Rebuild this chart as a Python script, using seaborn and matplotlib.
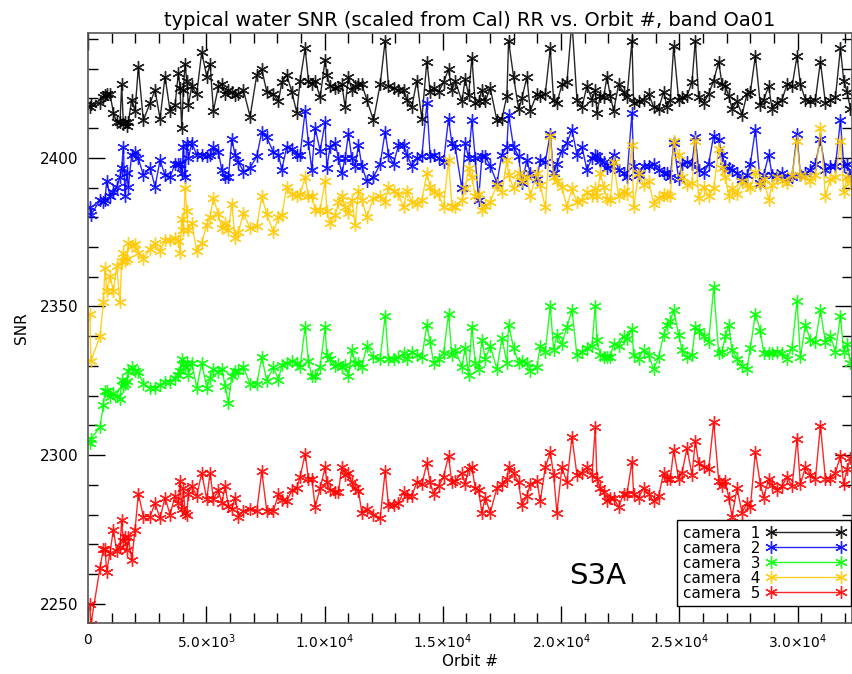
import matplotlib
matplotlib.use("Agg")
import matplotlib.pyplot as plt
import matplotlib.ticker as mticker
import seaborn as sns
import pandas as pd

# ---------------- data ----------------
orbit = [
    80, 120, 508, 649, 719, 790, 931, 1072, 1213, 1354, 1424, 1495, 1565, 1636, 1706, 1847, 1988, 2129, 2341,
    2623, 2834, 3046, 3257, 3469, 3680, 3821, 3892, 3962, 4033, 4103, 4174, 4244, 4385, 4597, 4808, 5020, 5161, 5302,
    5514, 5655, 5796, 5937, 6078, 6219, 6360, 6571, 6853, 7135, 7347, 7558, 7840, 8052, 8193, 8404, 8616, 8827,
    8968, 9180, 9321, 9462, 9603, 9814, 10026, 10096, 10237, 10449,
    10589, 10730, 10871, 11012, 11153, 11294, 11435, 11576, 11788, 12070, 12352, 12563, 12704, 12916, 13127, 13339,
    13480, 13691, 13903, 14114, 14326, 14467, 14608, 14819, 15031, 15242, 15383, 15524,
    15807, 15948, 16089, 16230, 16371, 16512, 16653, 16794, 17005, 17287, 17499, 17710, 17781, 17992, 18204, 18345,
    18556, 18697, 18979, 19120, 19332, 19543, 19684, 19825, 20037, 20248, 20460, 20671, 20883, 21094,
    21305, 21446, 21517, 21658, 21799, 21940, 22081, 22222, 22433, 22645, 22786, 22997, 23068, 23279, 23491, 23702,
    23914, 24125, 24337, 24478, 24619, 24760, 24971, 25112, 25324, 25535, 25676, 25817, 26029, 26240, 26452,
    26664, 26805, 26946, 27087, 27228, 27439, 27651, 27862, 28003, 28215, 28426, 28567, 28779, 28920, 29131, 29343,
    29554, 29766, 29977, 30118, 30330, 30541, 30753, 30964, 31176, 31387, 31599, 31810, 31951, 32092, 32233,
]

camera1 = [
    2417, 2418, 2418.4, 2420.3, 2421, 2421.5, 2421.5, 2415.2, 2412, 2412, 2424.7, 2411.3, 2412, 2410.7, 2412, 2419.6,
    2415.8, 2430.5, 2412.6, 2418.4, 2422.8, 2413.2, 2427.3, 2415.8, 2417.7, 2428.6, 2423.5, 2410, 2422.8, 2431.7,
    2426, 2417.7, 2424.1, 2421.5, 2435.6, 2427.3, 2431.7, 2415.8,
    2424.1, 2424.7, 2421.5, 2422.8, 2422.2, 2421, 2421.5, 2422.8, 2413.9, 2427.9, 2429.8, 2422.2, 2421.5, 2419,
    2425.4, 2427.9, 2422.2, 2415.2, 2426, 2436.8, 2426, 2425, 2426, 2420.3, 2433, 2427.9, 2424.1, 2423.5,
    2424, 2424.7, 2417.1, 2427.3, 2422.8, 2424.1, 2424.7, 2424.7, 2419.6, 2412.6, 2424.7, 2439.4, 2424.1, 2423.5,
    2422.8, 2422.8, 2419.6, 2417.1, 2426, 2413.2, 2432.4, 2422.2, 2423.5, 2422.2, 2425.4, 2429.8, 2422.8, 2426,
    2419, 2426.6, 2421, 2433.7, 2418.4, 2419, 2422.8, 2419, 2423.5, 2412.6, 2413.2, 2420.9, 2439.4, 2427.3, 2416.5,
    2420, 2427.3, 2415.8, 2421.5, 2420.9, 2421.5, 2436.8, 2419.6, 2418.4, 2424.7, 2425.4, 2446, 2419.6, 2417.1, 2424.1,
    2419.6, 2422.8, 2415.2, 2420.9, 2420.3, 2427.3, 2420.9, 2415.8, 2424.7, 2422.2, 2420.3, 2439.4, 2418.4, 2419,
    2419.6, 2421.5, 2417.1, 2416.5, 2422.2, 2417.1, 2419.6, 2437.5, 2419.6, 2420.3, 2420.9, 2425.4, 2439.4, 2420.3,
    2418.4, 2421.5, 2426,
    2432.4, 2424.7, 2424.1, 2420.9, 2416.5, 2419, 2414.5, 2421.5, 2422.2, 2434.3, 2417.7, 2419.6, 2424.1, 2416.5,
    2418.4, 2419.6, 2424.7, 2424.1, 2434.3, 2424.7, 2419.6, 2419, 2419.6, 2432.4, 2418.4, 2419.6, 2420.3, 2436.8,
    2426, 2422.2, 2416.5,
]

camera2 = [
    2383.3, 2380.7, 2385.8, 2385.2, 2385.8, 2392.2, 2387.1, 2388.4, 2390.3, 2393.5, 2396.7, 2403.7, 2387.1, 2394.8,
    2390.3, 2401.1, 2401.8, 2399.9, 2394.1, 2396.7, 2390.3, 2399.2, 2394.1, 2393.5, 2398, 2398, 2398, 2394.8, 2403.7,
    2393.5, 2405, 2399.9, 2405, 2401.1, 2401.1, 2400.5, 2401, 2403.7,
    2402, 2396, 2393.5, 2393.5, 2406.2, 2401.1, 2398.6, 2395.4, 2396.7, 2400.5, 2408.8, 2406.9, 2401.8, 2401.1, 2396,
    2403.7, 2403, 2401.1, 2401.1, 2415.8, 2405, 2396, 2410, 2402.4, 2412, 2396.7, 2403.7, 2405,
    2400, 2394.8, 2399.9, 2408.1, 2399.9, 2397.3, 2404.3, 2397.3, 2392.2, 2393.5, 2398, 2408.8, 2401.1, 2398, 2404.3,
    2404.3, 2401.1, 2397.3, 2399.9, 2400.5, 2418.4, 2400.5, 2401.1, 2399.9, 2398.6, 2413.2, 2405, 2403.7,
    2389.7, 2405, 2399.9, 2412.6, 2399.9, 2385.8, 2400.5, 2400.5, 2397.3, 2391.6, 2401.1, 2403.7, 2414.5, 2403.7,
    2400.5, 2391.6, 2399.2, 2394.8, 2392.9, 2399.2, 2398.6, 2408.1, 2394.8, 2398, 2402.4, 2405, 2409.5, 2401.1,
    2403.7, 2396,
    2399.9, 2401.1, 2400.5, 2399, 2398.6, 2396.7, 2397.3, 2401.1, 2396, 2394.8, 2393.5, 2415.2, 2397.3, 2394.1,
    2397.3, 2397.3, 2398, 2396, 2394.8, 2395, 2393.5, 2405, 2392.9, 2398, 2398.6, 2398, 2406.9, 2396, 2394.8, 2398,
    2407.5,
    2406, 2401.1, 2397.3, 2396.5, 2396, 2394.8, 2392.9, 2394.1, 2398, 2409.5, 2391.6, 2394.1, 2401.1, 2394.1, 2394.1,
    2394.8, 2392.9, 2393.5, 2408.1, 2394.1, 2394.8, 2396, 2398, 2406.2, 2396, 2397.3, 2397.3, 2412.6, 2397.3, 2398,
    2394.1,
]

camera3 = [
    2304.2, 2305.5, 2309.3, 2317, 2321.4, 2321.4, 2319.5, 2320.8, 2320, 2318.9, 2325.2, 2323.3, 2323.9, 2325, 2328.4,
    2329.7, 2328.4, 2327.8, 2323.9, 2322.7, 2322.7, 2323.5, 2324.6, 2324.6, 2325.9, 2327, 2328.4, 2332.3, 2330.4,
    2329.7, 2331, 2327.1, 2331, 2322.7, 2331, 2322.7, 2326, 2329,
    2328, 2329, 2323.3, 2317.6, 2326.5, 2328.4, 2328.4, 2329.7, 2323.9, 2323.9, 2332.9, 2325, 2329.7, 2325.2, 2330.4,
    2331, 2331.6, 2331, 2329.7, 2343.1, 2331.6, 2326.5, 2326.5, 2329.7, 2343.1, 2333.5, 2332.3, 2330,
    2330.5, 2329.7, 2330.4, 2326.5, 2335.4, 2331, 2331, 2329.7, 2336.7, 2332.9, 2332.3, 2346.9, 2332.3, 2332.3,
    2332.9, 2334.2, 2332.3, 2334.8, 2333.5, 2332.9, 2343.8, 2338, 2331, 2332.3, 2334.2, 2347.6, 2333.5, 2335.4,
    2329.7, 2336.1, 2327.1, 2343.1, 2331, 2329, 2338.6, 2332.3, 2336.7, 2329, 2339.3, 2331, 2343.8, 2336.1, 2331,
    2331.6, 2331, 2328.4, 2329.7, 2336.7, 2334.8, 2350.1, 2335.4, 2340.5, 2337.4, 2343.1, 2348.8, 2333.5, 2334.8,
    2336.1,
    2336.7, 2350.1, 2338.6, 2333.5, 2332.9, 2332.9, 2332.9, 2337.4, 2336.7, 2339.9, 2339, 2342.5, 2333.5, 2332.3,
    2335.4, 2333.5, 2329, 2332.9, 2340.5, 2343.8, 2345, 2348.8, 2340.5, 2335.4, 2332.9, 2333.5, 2343.1, 2341.8,
    2339.9, 2338, 2356.5,
    2334.2, 2334.8, 2340, 2343.8, 2335.4, 2332.3, 2330, 2329, 2336.1, 2347.6, 2341.8, 2334.2, 2334.2, 2334.5, 2334.8,
    2334.2, 2332.3, 2336.1, 2352, 2332.9, 2343.8, 2338.6, 2338, 2348.8, 2338, 2339.9, 2334.8, 2346.9, 2334.8, 2337.4,
    2331,
]

camera4 = [
    2347.6, 2331.6, 2339.9, 2351.4, 2362.9, 2355.2, 2360.3, 2355.2, 2363.5, 2351.4, 2365.4, 2368, 2365.4, 2366,
    2371.2, 2370.5, 2371, 2368, 2366.1, 2369.2, 2371.2, 2368.6, 2372.4, 2372.4, 2373.1, 2372, 2368, 2379.5, 2375.6,
    2389.7, 2382, 2375.6, 2378.2, 2368.6, 2371.2, 2377.5, 2380, 2386.5,
    2381, 2376.3, 2378.2, 2375.6, 2384.6, 2373.1, 2375, 2381.4, 2376.3, 2376.9, 2387.1, 2381, 2375, 2380.1, 2380.7,
    2390.3, 2387.8, 2387.1, 2387.8, 2393.5, 2387.1, 2387.1, 2382.6, 2382.6, 2392.2, 2382, 2378, 2380.7,
    2385, 2387.1, 2383.3, 2381.4, 2385.8, 2377.5, 2389, 2385.8, 2380.1, 2386.5, 2387.1, 2385.2, 2390.3, 2389, 2387.8,
    2383.3, 2389, 2385.2, 2384.6, 2385.8, 2394.8, 2390.3, 2388.4, 2387.8, 2383.3, 2399.2, 2383.8, 2383.3,
    2385.8, 2389.7, 2396.7, 2393.5, 2387.1, 2387.8, 2382.6, 2383.9, 2385.2, 2390.9, 2388.4, 2399.2, 2394.1, 2389.7,
    2394.8, 2392.2, 2393.5, 2387.1, 2394.8, 2390.9, 2383.3, 2407.5, 2393.5, 2392.2, 2390.3, 2383.3, 2389.7, 2385.2,
    2385.8, 2388.4,
    2387.1, 2389.7, 2387.1, 2394.8, 2390.3, 2386, 2385.8, 2398.6, 2387.1, 2389, 2388, 2404.3, 2383.3, 2394.8, 2390.9,
    2392.2, 2384.6, 2386.5, 2387.8, 2387.5, 2387.1, 2405.6, 2401.1, 2393.5, 2390.9, 2391.6, 2405.6, 2386.5, 2390.3,
    2387.1, 2389.7,
    2403, 2396.7, 2393.5, 2387.1, 2389.7, 2387.8, 2392.2, 2390.9, 2389.7, 2395.4, 2390.9, 2392.9, 2385.8, 2390.9,
    2393.5, 2392.2, 2391.6, 2394.1, 2405.6, 2394.1, 2393.5, 2392.2, 2394.1, 2410.1, 2387.1, 2392.9, 2393.5, 2405.6,
    2388.4, 2393.5, 2391.6,
]

camera5 = [
    2250, 2243, 2262.1, 2268.5, 2268.5, 2260.8, 2267.2, 2274.9, 2267.8, 2269.1, 2278.1, 2271, 2272.3, 2268, 2272.3,
    2264.6, 2274.9, 2287, 2279.3, 2279.3, 2283.8, 2278.7, 2285.7, 2280, 2286.3, 2283.8, 2291.4, 2281.9, 2288.9,
    2280.6, 2280, 2287, 2289.5, 2286.3, 2294, 2285.1, 2294, 2285.1,
    2288.2, 2283.8, 2289.5, 2283, 2281.9, 2285.7, 2279.3, 2281.2, 2281.9, 2281.2, 2294.6, 2281.2, 2281.2, 2287, 2285,
    2284.4, 2288.2, 2288.9, 2292.7, 2300.4, 2292.1, 2292.1, 2282.5, 2288.9, 2295.9, 2290.8, 2288.2, 2287.6,
    2287.6, 2295.9, 2293.4, 2294, 2290.8, 2288.9, 2288, 2280.6, 2281.9, 2280, 2278.7, 2294.6, 2283.1, 2283.1, 2283.8,
    2287.6, 2286.3, 2286.3, 2290.8, 2290.2, 2297.2, 2290.8, 2287, 2289.5, 2292.7, 2299.7, 2290.8, 2291.4,
    2294, 2290.2, 2295.3, 2295.9, 2288.9, 2288.2, 2280.6, 2285.7, 2280.6, 2288.9, 2290.2, 2292, 2295.9, 2294, 2290.8,
    2283.1, 2286.3, 2290.2, 2291.4, 2284.4, 2295.9, 2301, 2293.4, 2280.6, 2295.9, 2290.8, 2306.1, 2293.4, 2294, 2295.9,
    2293.4, 2309.3, 2292.1, 2288.9, 2287.6, 2284.4, 2285.7, 2285.7, 2282.5, 2287, 2287, 2297.8, 2287, 2285.7, 2288.9,
    2287, 2284.4, 2286.3, 2294, 2292.1, 2292.1, 2301.6, 2292.1, 2294, 2302.3, 2293.4, 2304.8, 2297.2, 2295.9, 2295.3,
    2311.2,
    2291.4, 2289.5, 2291.4, 2285.7, 2279.3, 2288.9, 2280.6, 2283.8, 2282.5, 2301, 2290.2, 2285.7, 2292.1, 2290,
    2288.2, 2289.5, 2292.7, 2289.5, 2305.5, 2290.2, 2295.9, 2293.4, 2292.1, 2309.9, 2292.1, 2292.1, 2294, 2299.7,
    2290.2, 2295.3, 2299,
]

series_names = ["camera  1", "camera  2", "camera  3", "camera  4", "camera  5"]
series_values = [camera1, camera2, camera3, camera4, camera5]
series_colors = ["#000000", "#0000FF", "#00FF00", "#FFC800", "#FF0000"]

x_ticks = [0, 5000, 10000, 15000, 20000, 25000, 30000]
x_tick_labels = ["0", r"$5.0{\times}10^{3}$", r"$1.0{\times}10^{4}$", r"$1.5{\times}10^{4}$",
                 r"$2.0{\times}10^{4}$", r"$2.5{\times}10^{4}$", r"$3.0{\times}10^{4}$"]
y_ticks = [2250, 2300, 2350, 2400]

# ---------------- plot ----------------
sns.set_style("white")
plt.rcParams["font.family"] = ["DejaVu Sans"]
plt.rcParams["mathtext.fontset"] = "dejavusans"
plt.rcParams["text.color"] = "black"
plt.rcParams["axes.labelcolor"] = "black"
plt.rcParams["xtick.color"] = "black"
plt.rcParams["ytick.color"] = "black"

fig = plt.figure(figsize=(8.52, 6.74), dpi=100)
ax = fig.add_axes([88 / 852, 51 / 674, 764 / 852, 590 / 674])

asterisk = (6, 2, 0)
for name, vals, col in zip(series_names, series_values, series_colors):
    df = pd.DataFrame({"orbit": orbit, "snr": vals})
    sns.lineplot(data=df, x="orbit", y="snr", ax=ax, color=col, label=name,
                 estimator=None, sort=False, linewidth=1.0,
                 marker=asterisk, markersize=9, markeredgewidth=1.0,
                 markeredgecolor=col, markerfacecolor=col, alpha=0.85)

ax.set_xlim(0, 32300)
ax.set_ylim(2243.5, 2442)

ax.set_xticks(x_ticks)
ax.set_xticklabels(x_tick_labels, fontsize=10)
ax.set_yticks(y_ticks)
ax.set_yticklabels([str(v) for v in y_ticks], fontsize=11)
ax.xaxis.set_minor_locator(mticker.MultipleLocator(1000))
ax.yaxis.set_minor_locator(mticker.MultipleLocator(10))
ax.tick_params(which="major", direction="in", length=12, width=1, top=True, right=True,
               bottom=True, left=True, colors="black", pad=7)
ax.tick_params(which="minor", direction="in", length=7, width=1, top=True, right=True,
               bottom=True, left=True, colors="black")

for sp in ax.spines.values():
    sp.set_color("#555555")
    sp.set_linewidth(1.2)

ax.set_xlabel("Orbit #", fontsize=11, labelpad=2, color="black")
ax.set_ylabel("SNR", fontsize=11, labelpad=8, color="black")
ax.set_title("typical water SNR (scaled from Cal) RR vs. Orbit #, band Oa01",
             fontsize=14, pad=5, color="black")

ax.text(0.667, 0.08, "S3A", transform=ax.transAxes, fontsize=21, ha="center", va="center",
        color="black")

leg = ax.legend(loc="lower right", bbox_to_anchor=(0.999, 0.029), borderaxespad=0,
                fontsize=11, numpoints=2, markerfirst=False, handlelength=5.2,
                handletextpad=0.4, labelspacing=0.0, borderpad=0.35,
                frameon=True, fancybox=False, framealpha=1)
leg.get_frame().set_edgecolor("black")
leg.get_frame().set_linewidth(1.0)
for t in leg.get_texts():
    t.set_color("black")

fig.savefig("out.png", dpi=100)
